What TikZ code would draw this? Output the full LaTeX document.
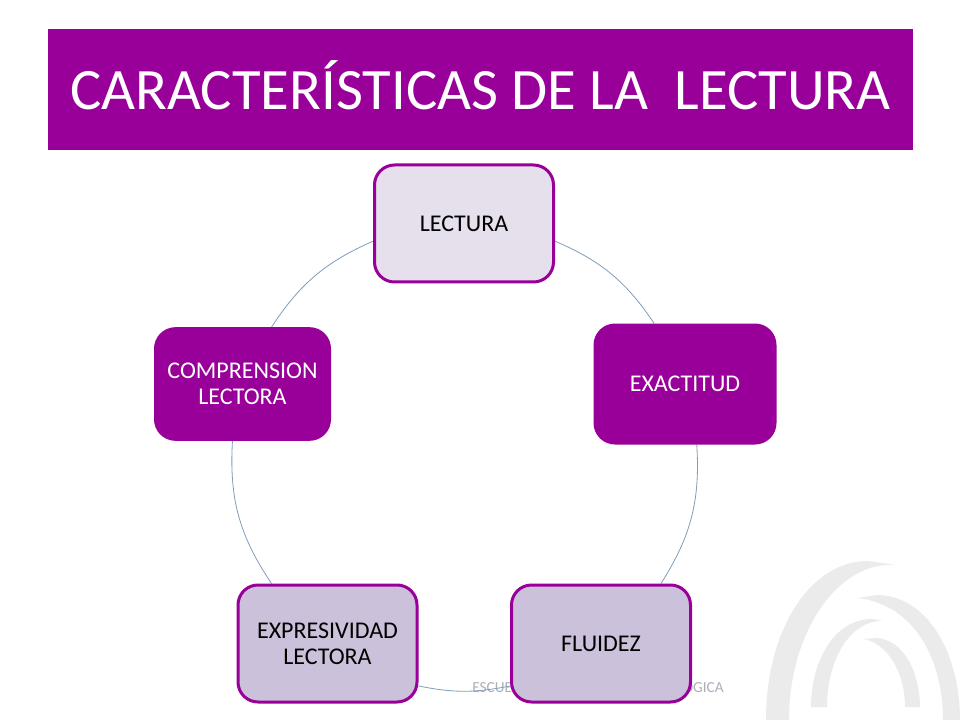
\documentclass[tikz,border=0pt]{standalone}
\usepackage{fontspec}
\setmainfont{Carlito}
\usetikzlibrary{backgrounds}

\definecolor{titlepurple}{HTML}{990099}
\definecolor{paleviolet}{HTML}{E5E0EC}
\definecolor{midviolet}{HTML}{CCC1DA}
\definecolor{ringblue}{HTML}{7F9DB9}
\definecolor{footgray}{HTML}{A9B0B7}
\definecolor{archgray}{HTML}{EBEBEB}

\tikzset{
    cyclebox/.style = {draw = titlepurple, line width = 2.25pt, rounded corners = 15pt, align = center, font = \fontsize{18}{19.5}\selectfont, inner sep = 0pt},
    ring/.style = {draw = ringblue, line width = 0.6pt},
    footer/.style = {text = footgray, font = \fontsize{11.5}{14}\selectfont, inner sep = 0pt}
}

\begin{document}
\begin{tikzpicture}[x = 0.75pt, y = -0.75pt]
    \useasboundingbox (0, 0) rectangle (960, 720);

    \node[fill = titlepurple, minimum width = 648.75pt, minimum height = 90.75pt, inner sep = 0pt] (title) at (480.5, 89.5) {};
    \node[text = white, inner sep = 0pt, font = \fontsize{44}{48}\selectfont] (titletext) at (480.5, 85.5) {CARACTERÍSTICAS DE LA\ \ LECTURA};

    \node[cyclebox, fill = paleviolet, minimum width = 134.25pt, minimum height = 87.75pt] (lectura) at (464, 223.5) {LECTURA};
    \node[cyclebox, fill = titlepurple, text = white, minimum width = 135pt, minimum height = 88.5pt] (exactitud) at (685, 384) {EXACTITUD};
    \node[cyclebox, fill = midviolet, minimum width = 134.25pt, minimum height = 87.75pt] (fluidez) at (601, 643.5) {FLUIDEZ};
    \node[cyclebox, fill = midviolet, minimum width = 134.25pt, minimum height = 87.75pt] (expresividad) at (327.5, 643.5) {EXPRESIVIDAD\\LECTORA};
    \node[cyclebox, fill = titlepurple, text = white, minimum width = 130.5pt, minimum height = 83pt] (comprension) at (242.5, 384) {COMPRENSION\\LECTORA};

    \begin{pgfonlayer}{background}
        % arches of the template
        \fill[archgray] (766, 720) .. controls (766, 630) and (810, 561) .. (868, 561) -- (896, 565) .. controls (840, 560) and (789, 630) .. (789, 720) -- cycle;
        \fill[archgray] (877, 595) .. controls (925, 595) and (960, 650) .. (960, 720) -- (943, 720) .. controls (943, 660) and (915, 605) .. (858, 598) -- cycle;
        \fill[archgray] (811, 707) .. controls (811, 660) and (835, 619) .. (872, 619) -- (883, 621) .. controls (850, 620) and (827, 660) .. (827, 707) -- cycle;
        \fill[archgray] (877, 638) .. controls (905, 640) and (920, 675) .. (920, 707) -- (905, 707) .. controls (905, 675) and (890, 645) .. (864, 639) -- cycle;

        \node[footer, anchor = base west] (footleft) at (472, 692) {ESCUE};
        \node[footer, anchor = base east] (footright) at (724, 692) {ÓGICA};

        \draw[ring] (lectura.-11) to[bend left = 16.5] (exactitud.117);
        \draw[ring] (exactitud.-79) to[bend left = 18] (fluidez.45);
        \draw[ring] (fluidez.205) to[bend left = 11.5] (expresividad.-25);
        \draw[ring] (expresividad.133) to[bend left = 18.7] (comprension.-100);
        \draw[ring] (comprension.63) to[bend left = 16.5] (lectura.191);
    \end{pgfonlayer}
\end{tikzpicture}
\end{document}
